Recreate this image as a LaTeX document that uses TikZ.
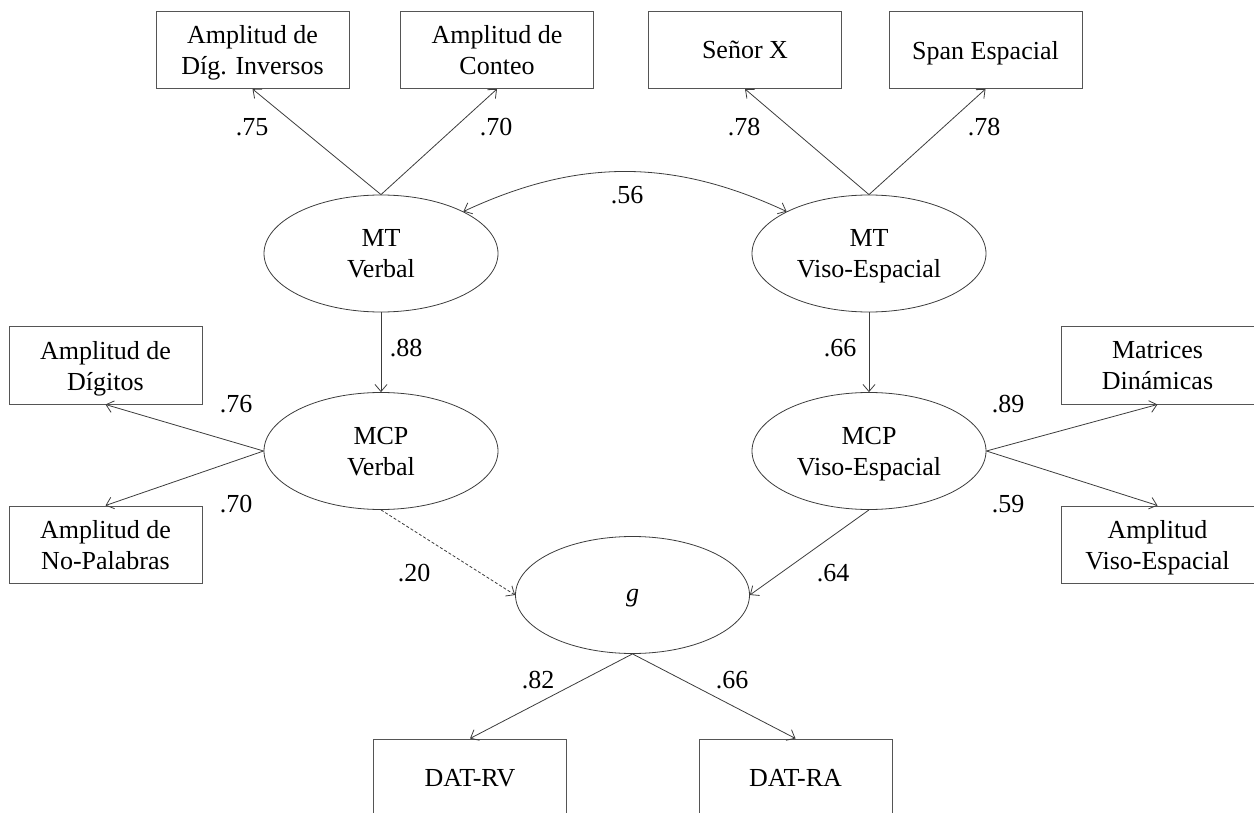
\documentclass[tikz,border=0pt]{standalone}
\usepackage{fontspec}
\setmainfont{Liberation Serif}
\usepackage{tikz}
\usetikzlibrary{arrows.meta,positioning,shapes.geometric}
\definecolor{EdgeColor}{RGB}{60,60,60}
\definecolor{FrameColor}{RGB}{85,85,85}
\tikzset{
  semrect/.style={rectangle, draw=FrameColor, line width=1pt, minimum width=193pt, minimum height=77pt, align=center, inner sep=0pt, text depth=-4.4pt},
  semlatent/.style={ellipse, draw=EdgeColor, line width=0.8pt, minimum width=234pt, minimum height=117pt, align=center, inner sep=0pt, text depth=-4.4pt},
  semcoef/.style={inner sep=0pt},
  sempath/.style={->, draw=EdgeColor, line width=0.8pt},
}

\begin{document}
\begin{tikzpicture}[x=1pt, y=-1pt, >={Straight Barb[length=7pt,width=12pt]}, every node/.style={font=\fontsize{26}{31}\selectfont}]
      \useasboundingbox (0,0) rectangle (1254,813);

      % indicators on top
      \node[semrect] (ampinv) at (252.5,50) {Amplitud de\\Díg. Inversos};
      \node[semrect] (conteo) at (497,50) {Amplitud de\\Conteo};
      \node[semrect] (senorx) at (745,50) {Señor X};
      \node[semrect] (spanesp) at (985.5,50) {Span Espacial};

      % latent factors
      \node[semlatent] (mtverb) at (381,253.5) {MT\\Verbal};
      \node[semlatent] (mtviso) at (869,253.5) {MT\\Viso-Espacial};
      \node[semlatent] (mcpverb) at (381,451) {MCP\\Verbal};
      \node[semlatent] (mcpviso) at (869,451) {MCP\\Viso-Espacial};
      \node[semlatent] (gfac) at (632.5,595) {\textit{g}};

      % side and bottom indicators
      \node[semrect] (ampdig) at (105.5,365.5) {Amplitud de\\Dígitos};
      \node[semrect] (ampnopal) at (105.5,544.5) {Amplitud de\\No-Palabras};
      \node[semrect] (matdin) at (1157.5,365.5) {Matrices\\Dinámicas};
      \node[semrect] (ampviso) at (1157.5,544.5) {Amplitud\\Viso-Espacial};
      \node[semrect] (datrv) at (470,777.5) {DAT-RV};
      \node[semrect] (datra) at (795.5,777.5) {DAT-RA};

      \draw[sempath] (mtverb.north) -- (ampinv.south);
      \draw[sempath] (mtverb.north) -- (conteo.south);
      \draw[sempath] (mtviso.north) -- (senorx.south);
      \draw[sempath] (mtviso.north) -- (spanesp.south);
      \draw[sempath, <->] (mtverb.27) to[bend left=25] (mtviso.153);
      \draw[sempath] (mtverb.south) -- (mcpverb.north);
      \draw[sempath] (mtviso.south) -- (mcpviso.north);
      \draw[sempath] (mcpverb.west) -- (ampdig.south);
      \draw[sempath] (mcpverb.west) -- (ampnopal.north);
      \draw[sempath] (mcpviso.east) -- (matdin.south);
      \draw[sempath] (mcpviso.east) -- (ampviso.north);
      \draw[sempath, dash pattern=on 3pt off 2pt] (mcpverb.south) -- (gfac.west);
      \draw[sempath] (mcpviso.south) -- (gfac.east);
      \draw[sempath] (gfac.south) -- (datrv.north);
      \draw[sempath] (gfac.south) -- (datra.north);

      % loadings
      \foreach \n/\x/\y/\val in {
        c1/252/127/.75, c2/496/127/.70, c3/744/127/.78, c4/984/127/.78,
        c5/627/195/.56, c6/406/348/.88, c7/840/348/.66,
        c8/236/404/.76, c9/236/504/.70, c10/1008/404/.89, c11/1008/504/.59,
        c12/414/573/.20, c13/833/573/.64, c14/538/680/.82, c15/732/680/.66
      }{
        \node[semcoef] (\n) at (\x,\y) {\val};
      }
\end{tikzpicture}
\end{document}
